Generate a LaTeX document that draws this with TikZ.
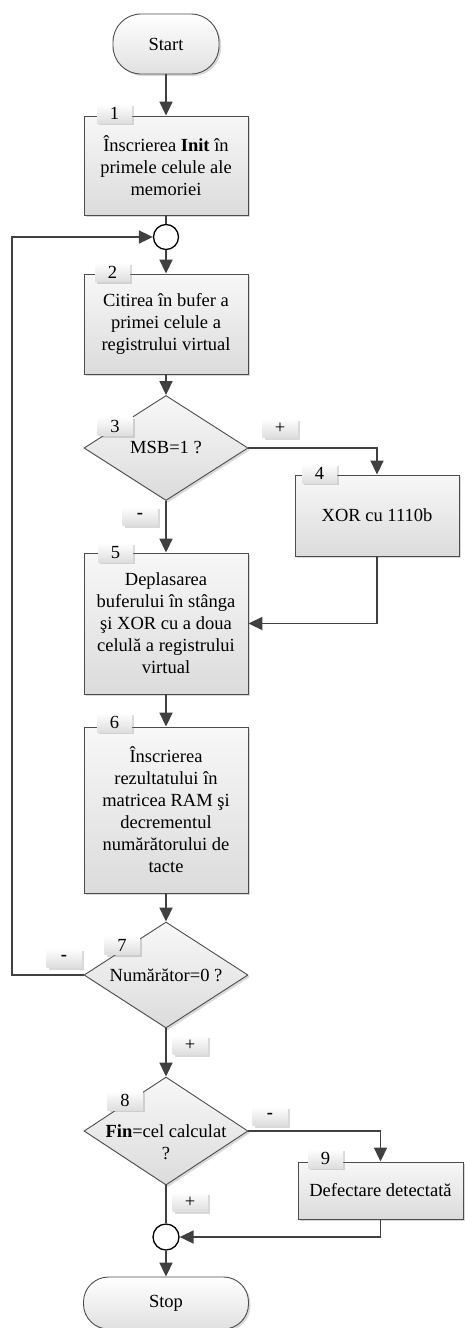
\documentclass[tikz,border=0pt]{standalone}
\usepackage{fontspec}
\setmainfont{Liberation Serif}
\usetikzlibrary{arrows.meta,shapes.geometric,shadows}

\begin{document}
\begin{tikzpicture}[x=1pt,y=-1pt,font=\fontsize{18.5}{22}\selectfont,
  line/.style={draw=black!75,line width=1.8pt},
  arr/.style={line,-{Triangle[length=14pt,width=13pt]}},
  box/.style={draw=black!70,line width=0.9pt,top color=white!97!black,bottom color=white!86!black,
    drop shadow={opacity=0.3,shadow xshift=2pt,shadow yshift=-2pt},
    align=center,minimum width=164pt,inner sep=0pt},
  term/.style={box,rounded corners=28pt,top color=white,bottom color=white!88!black},
  cond/.style={box,diamond},
  tag/.style={top color=white,bottom color=white!87!black,
    drop shadow={opacity=0.3,shadow xshift=2pt,shadow yshift=-2pt},
    minimum width=35pt,minimum height=19pt,inner sep=0pt},
  junc/.style={circle,draw=black,line width=1.3pt,fill=white,minimum size=25pt,inner sep=0pt}]
\useasboundingbox (0,0) rectangle (464,1328);
\node[term,minimum width=106pt,minimum height=60pt] (start) at (166,44) {Start};
\node[box,minimum height=99pt] (b1) at (166,165.5) {Înscrierea \textbf{Init} în\\primele celule ale\\memoriei};
\node[junc] (j1) at (166,237) {};
\node[box,minimum height=100pt] (b2) at (166,324) {Citirea în bufer a\\primei celule a\\registrului virtual};
\node[cond,minimum height=105pt] (d3) at (166,448) {};
\node (d3txt) at (d3) {MSB=1 ?};
\node[box,minimum height=81pt] (b4) at (377,515.5) {XOR cu 1110b};
\node[box,minimum height=141pt] (b5) at (166,623.5) {Deplasarea\\buferului în stânga\\şi XOR cu a doua\\celulă a registrului\\virtual};
\node[box,minimum height=166pt] (b6) at (166,810) {Înscrierea\\rezultatului în\\matricea RAM şi\\decrementul\\numărătorului de\\tacte};
\node[cond,minimum height=106pt] (d7) at (166,975) {};
\node (d7txt) at (d7) {Numărător=0 ?};
\node[cond,minimum height=108pt] (d8) at (166,1131) {};
\node[align=center] (d8txt) at (166,1142) {\textbf{Fin}=cel calculat\\?};
\node[box,minimum width=165pt,minimum height=57pt] (b9) at (380.5,1190.5) {Defectare detectată};
\node[junc,minimum size=26pt] (j2) at (166,1237) {};
\node[term,minimum width=165pt,minimum height=52pt,rounded corners=25pt] (stop) at (166,1303) {Stop};
\coordinate (back) at (12,975);

\draw[arr] (start) -- (b1);
\draw[line] (b1) -- (j1);
\draw[arr] (j1) -- (b2);
\draw[arr] (b2) -- (d3);
\draw[arr] (d3.east) -| (b4.north);
\draw[arr] (d3.south) -- (b5.north);
\draw[arr] (b4.south) |- (b5.east);
\draw[arr] (b5) -- (b6);
\draw[arr] (b6.south) -- (d7.north);
\draw[arr] (d7.west) -- (back) |- (j1.west);
\draw[arr] (d7.south) -- (d8.north);
\draw[arr] (d8.east) -| (b9.north);
\draw[line] (d8.south) -- (j2.north);
\draw[arr] (b9.south) |- (j2.east);
\draw[arr] (j2) -- (stop);

\node[tag] (t1) at (114.5,113.5) {1};
\node[tag] (t2) at (112.5,272) {2};
\node[tag] (t3) at (115,426) {3};
\node[tag] (t4) at (319.5,473.5) {4};
\node[tag] (t5) at (115.5,552.5) {5};
\node[tag] (t6) at (114.5,722.5) {6};
\node[tag] (t7) at (122,945) {7};
\node[tag] (t8) at (125,1100.5) {8};
\node[tag] (t9) at (325.5,1158.5) {9};
\node[tag] (p3) at (280,428) {+};
\node[tag] (m3) at (140,516) {\textbf{-}};
\node[tag] (m7) at (64,958) {\textbf{-}};
\node[tag] (p7) at (190,1045) {+};
\node[tag] (m8) at (270,1116) {\textbf{-}};
\node[tag] (p8) at (190,1202) {+};
\end{tikzpicture}
\end{document}
